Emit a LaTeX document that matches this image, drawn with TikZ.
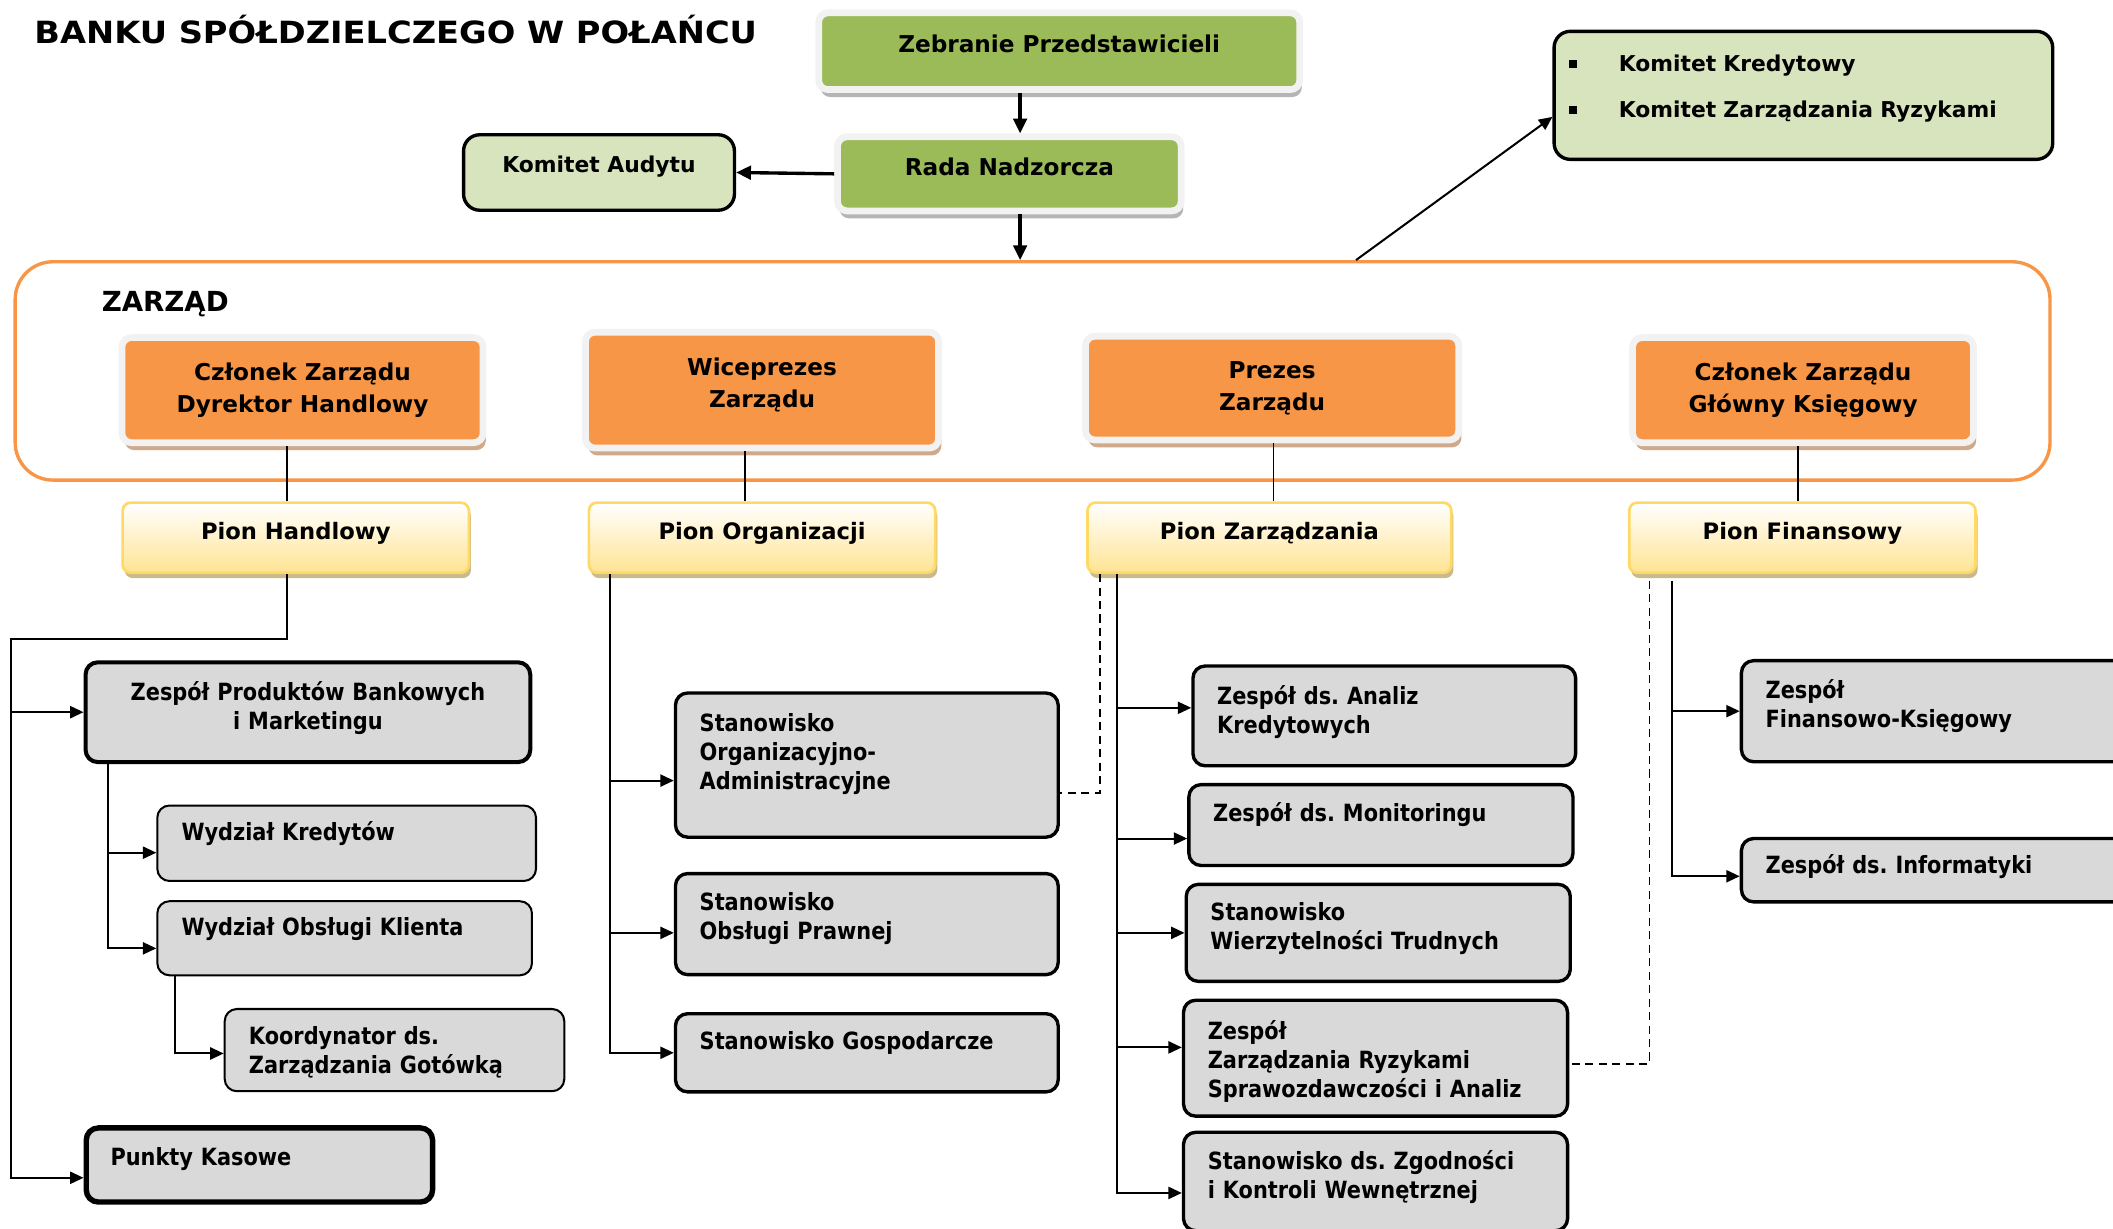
\documentclass[tikz,border=0pt]{standalone}
\usepackage{fontspec}
\setmainfont{DejaVu Sans}
\newfontfamily\unitfamily{DejaVu Sans}[FakeStretch=0.88]
\newfontfamily\titlefamily{DejaVu Sans}[FakeStretch=1.1]
\usepackage{tikz}
\usetikzlibrary{positioning,arrows.meta,shadows}
\usepackage{xcolor}
\frenchspacing

\definecolor{boardGreen}{HTML}{9BBB59}
\definecolor{paleGreen}{HTML}{D7E4BD}
\definecolor{boardOrange}{HTML}{F79646}
\definecolor{unitGray}{HTML}{D9D9D9}
\definecolor{frameGray}{HTML}{F2F2F2}
\definecolor{greenShadow}{HTML}{B5B5B5}
\definecolor{orangeShadow}{HTML}{D0A98A}
\definecolor{pionYellow}{HTML}{FFE493}
\definecolor{pionBorder}{HTML}{FFD966}
\definecolor{pionShadow}{HTML}{C9BA8C}

\begin{document}
\begin{tikzpicture}[x=1pt, y=-1pt,
    arr/.style={line width=1.5pt, -{Triangle[length=10pt,width=9pt]}},
    bigarr/.style={line width=2.5pt, -{Triangle[length=11pt,width=10pt]}},
    link/.style={line width=1.2pt},
    dashline/.style={line width=1.4pt, dash pattern=on 6pt off 4pt},
    headbox/.style={draw=frameGray, line width=5pt, rounded corners=7pt, align=center,
        font=\fontsize{17.2}{24}\selectfont\bfseries},
    greenbox/.style={headbox, fill=boardGreen, text depth=11pt,
        drop shadow={shadow xshift=1.5pt, shadow yshift=-5.5pt, fill=greenShadow, opacity=1}},
    orangebox/.style={headbox, fill=boardOrange,
        drop shadow={shadow xshift=2pt, shadow yshift=-5.5pt, fill=orangeShadow, opacity=1}},
    pionbox/.style={draw=pionBorder, line width=2pt, rounded corners=6pt, top color=white,
        bottom color=pionYellow, minimum height=52pt, text depth=10pt,
        font=\fontsize{16.8}{24}\selectfont\bfseries,
        drop shadow={shadow xshift=1.5pt, shadow yshift=-4pt, fill=pionShadow, opacity=1}},
    komitetbox/.style={draw=black, line width=2.5pt, rounded corners=12pt, fill=paleGreen,
        font=\fontsize{16.2}{22}\selectfont\bfseries},
    zarzadframe/.style={draw=boardOrange, line width=2.5pt, rounded corners=28pt},
    unit/.style={draw=black, line width=2.5pt, rounded corners=9pt, fill=unitGray, align=left,
        anchor=north west, inner xsep=18pt,
        font=\unitfamily\fontsize{17.6}{21.5}\selectfont\bfseries}
]
\useasboundingbox (0,0) rectangle (1568,912);

% Title
\node[anchor=base west, font=\titlefamily\fontsize{22.7}{28}\selectfont\bfseries] (title) at (22,32)
    {BANKU SPÓŁDZIELCZEGO W POŁAŃCU};

% Supervisory level
\node[greenbox, minimum width=357pt, minimum height=57pt] (zebranie) at (786,38) {Zebranie Przedstawicieli};
\node[greenbox, minimum width=255pt, minimum height=55pt] (rada) at (749,129) {Rada Nadzorcza};
\node[komitetbox, minimum width=201pt, minimum height=56pt, text depth=12pt] (audyt) at (444.5,128) {Komitet Audytu};
\node[komitetbox, anchor=north west, align=left, text width=348pt, inner xsep=11pt,
    minimum height=95pt, text depth=47pt] (komitety) at (1152,22)
    {\makebox[37pt][l]{\raisebox{3pt}{\rule{6pt}{6pt}}}Komitet Kredytowy\\[12pt]
     \makebox[37pt][l]{\raisebox{3pt}{\rule{6pt}{6pt}}}Komitet Zarządzania Ryzykami};

% Board frame
\node[zarzadframe, anchor=north west, minimum width=1510pt, minimum height=162pt] (zarzad) at (10,193) {};
\node[anchor=base west, font=\fontsize{20.5}{24}\selectfont\bfseries] (zarzadLabel) at (72,231) {ZARZĄD};

% Board members
\node[orangebox, minimum width=268pt, minimum height=78pt] (czlonekH) at (224.5,289.5) {Członek Zarządu\\Dyrektor Handlowy};
\node[orangebox, minimum width=262pt, minimum height=86pt, text depth=11pt] (wiceprezes) at (565.5,289.5) {Wiceprezes\\Zarządu};
\node[orangebox, minimum width=277pt, minimum height=77pt] (prezes) at (944,288) {Prezes\\Zarządu};
\node[orangebox, minimum width=253pt, minimum height=78pt] (czlonekK) at (1338,289.5) {Członek Zarządu\\Główny Księgowy};

% Divisions
\node[pionbox, minimum width=257pt] (pionH) at (219.5,399) {Pion Handlowy};
\node[pionbox, minimum width=257pt] (pionO) at (565.5,399) {Pion Organizacji};
\node[pionbox, minimum width=270pt] (pionZ) at (942,399) {Pion Zarządzania};
\node[pionbox, minimum width=257pt] (pionF) at (1337.5,399) {Pion Finansowy};

% Pion Handlowy units
\node[unit, align=center, text width=294pt, minimum height=74pt, line width=3pt, text depth=31pt] (zespolPB) at (62,490) {Zespół Produktów Bankowych\\i Marketingu};
\node[unit, text width=245pt, minimum height=56pt, line width=1.5pt, text depth=18pt] (wKred) at (116,597) {Wydział Kredytów};
\node[unit, text width=242pt, minimum height=55pt, line width=1.5pt, text depth=17pt] (wObs) at (116,668) {Wydział Obsługi Klienta};
\node[unit, text width=216pt, minimum height=61pt, line width=1.5pt, text depth=21.5pt] (koord) at (166,748) {Koordynator ds.\\Zarządzania Gotówką};
\node[unit, text width=221pt, minimum height=55pt, line width=4pt, text depth=13pt] (punkty) at (62,835) {Punkty Kasowe};

% Pion Organizacji units
\node[unit, text width=248pt, minimum height=107pt, text depth=63pt] (stOA) at (500,513) {Stanowisko\\Organizacyjno-\\Administracyjne};
\node[unit, text width=248pt, minimum height=75pt, text depth=33.5pt] (stOP) at (500,647) {Stanowisko\\Obsługi Prawnej};
\node[unit, text width=248pt, minimum height=58pt, text depth=18pt] (stGosp) at (500,751) {Stanowisko Gospodarcze};

% Pion Zarzadzania units
\node[unit, text width=248pt, minimum height=74pt, text depth=31.5pt] (zAK) at (884,493) {Zespół ds. Analiz\\Kredytowych};
\node[unit, text width=249pt, minimum height=60pt, text depth=20pt] (zMon) at (881,581) {Zespół ds. Monitoringu};
\node[unit, text width=249pt, minimum height=72pt, text depth=31.5pt] (stWT) at (879,655) {Stanowisko\\Wierzytelności Trudnych};
\node[unit, text width=249pt, minimum height=86pt, text depth=42pt] (zZR) at (877,741) {Zespół\\Zarządzania Ryzykami\\Sprawozdawczości i Analiz};
\node[unit, text width=249pt, minimum height=73pt, text depth=32.5pt] (stZK) at (877,839) {Stanowisko ds. Zgodności\\i Kontroli Wewnętrznej};

% Pion Finansowy units
\node[unit, text width=264pt, minimum height=75pt, text depth=32.5pt] (zFK) at (1291,489) {Zespół\\Finansowo-Księgowy};
\node[unit, text width=264pt, minimum height=47pt, text depth=9pt] (zInf) at (1291,621) {Zespół ds. Informatyki};

% Top arrows
\draw[bigarr] ([xshift=8pt]rada.north |- zebranie.south) -- ([xshift=8pt]rada.north);
\draw[bigarr] (rada.west) -- (audyt.east);
\draw[bigarr] ([xshift=8pt]rada.south) -- ([xshift=8pt]rada.south |- zarzad.north);
\draw[arr] ([xshift=240pt]zarzad.north) -- ([yshift=-16pt]komitety.west);

% Board to divisions
\draw[link] ([xshift=-6.5pt]pionH.north) -- ([xshift=-6.5pt]pionH.north |- czlonekH.south);
\draw[link] ([xshift=-12.5pt]pionO.north) -- ([xshift=-12.5pt]pionO.north |- wiceprezes.south);
\draw[link] ([xshift=3pt]pionZ.north) -- ([xshift=3pt]pionZ.north |- prezes.south);
\draw[link] ([xshift=-3.5pt]pionF.north) -- ([xshift=-3.5pt]pionF.north |- czlonekK.south);

% Pion Handlowy tree
\coordinate (hTurn) at (8,474);
\draw[arr] ([xshift=-6.5pt]pionH.south) |- (hTurn) |- ([yshift=-9.5pt]punkty.west);
\draw[arr] (hTurn |- zespolPB.west) -- (zespolPB.west);
\coordinate (pbTrunk) at ([xshift=18pt]zespolPB.south west);
\draw[arr] (pbTrunk) |- ([yshift=-7.5pt]wObs.west);
\draw[arr] ([yshift=-7pt]wKred.west -| pbTrunk) -- ([yshift=-7pt]wKred.west);
\coordinate (obTrunk) at ([xshift=14pt]wObs.south west);
\draw[arr] (obTrunk) |- ([yshift=-2.5pt]koord.west);

% Pion Organizacji tree
\coordinate (orgTrunk) at ([xshift=17pt]pionO.south west);
\draw[arr] (orgTrunk) |- (stGosp.west);
\draw[arr] ([yshift=-11.5pt]stOA.west -| orgTrunk) -- ([yshift=-11.5pt]stOA.west);
\draw[arr] ([yshift=-6.5pt]stOP.west -| orgTrunk) -- ([yshift=-6.5pt]stOP.west);

% Pion Zarzadzania tree
\coordinate (zarTrunk) at ([xshift=23pt]pionZ.south west);
\coordinate (zarDash) at ([xshift=10pt]pionZ.south west);
\draw[arr] (zarTrunk) |- ([yshift=-8.5pt]stZK.west);
\draw[arr] ([yshift=6pt]zAK.west -| zarTrunk) -- ([yshift=6pt]zAK.west);
\draw[arr] ([yshift=-10pt]zMon.west -| zarTrunk) -- ([yshift=-10pt]zMon.west);
\draw[arr] (stWT.west -| zarTrunk) -- (stWT.west);
\draw[arr] ([yshift=8pt]zZR.west -| zarTrunk) -- ([yshift=8pt]zZR.west);
\draw[dashline] (zarDash) |- ([yshift=-20.5pt]stOA.east);

% Pion Finansowy tree
\coordinate (finTrunk) at ([xshift=33pt,yshift=-5pt]pionF.south west);
\coordinate (finDash) at ([xshift=16pt,yshift=-5pt]pionF.south west);
\draw[arr] (finTrunk) |- ([yshift=-4.5pt]zInf.west);
\draw[arr] (zFK.west -| finTrunk) -- (zFK.west);
\draw[dashline] (finDash) |- ([yshift=-4pt]zZR.east);
\end{tikzpicture}
\end{document}
